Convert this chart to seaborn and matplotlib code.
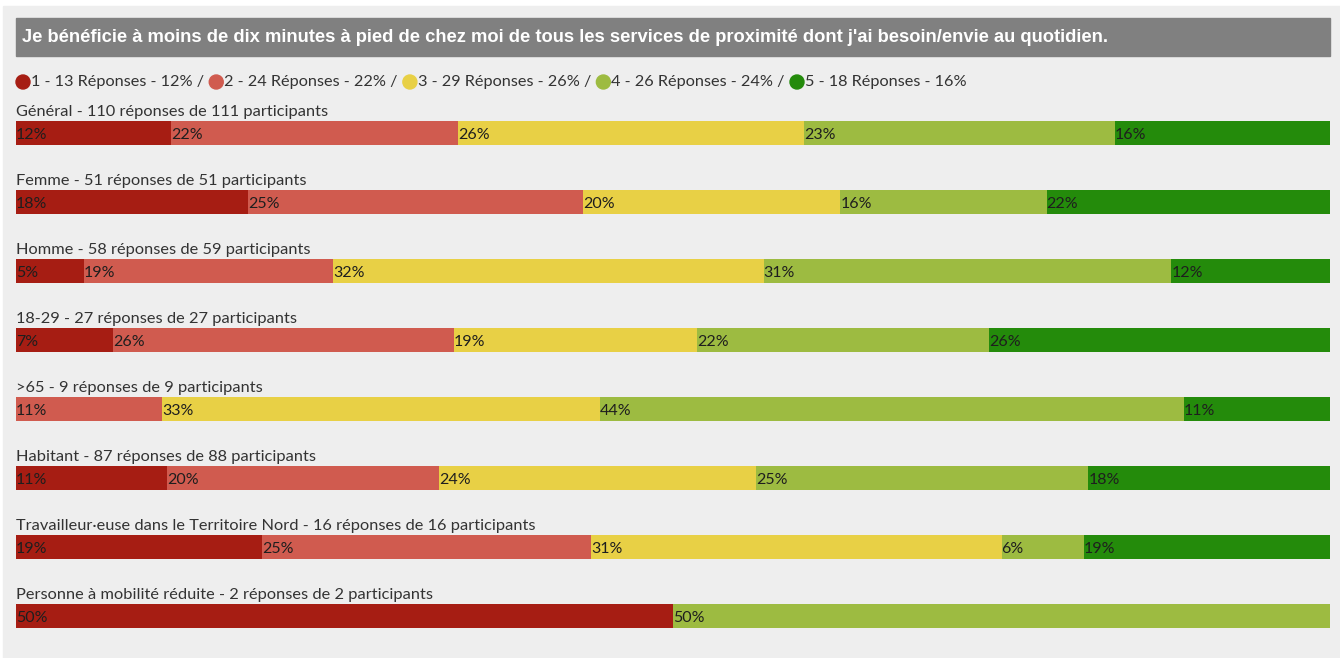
import numpy as np
import pandas as pd
import matplotlib
matplotlib.use("Agg")
import matplotlib.pyplot as plt
from matplotlib.patches import Rectangle, Circle
import seaborn as sns

# données
title = "Je bénéficie à moins de dix minutes à pied de chez moi de tous les services de proximité dont j'ai besoin/envie au quotidien."
rows = [
    "Général - 110 réponses de 111 participants",
    "Femme - 51 réponses de 51 participants",
    "Homme - 58 réponses de 59 participants",
    "18-29 - 27 réponses de 27 participants",
    ">65 - 9 réponses de 9 participants",
    "Habitant - 87 réponses de 88 participants",
    "Travailleur·euse dans le Territoire Nord - 16 réponses de 16 participants",
    "Personne à mobilité réduite - 2 réponses de 2 participants",
]

# nombre de réponses par note (1 à 5)
rep1 = [13, 9, 3, 2, 0, 10, 3, 1]
rep2 = [24, 13, 11, 7, 1, 18, 4, 0]
rep3 = [29, 10, 19, 5, 3, 21, 5, 0]
rep4 = [26, 8, 18, 6, 4, 22, 1, 1]
rep5 = [18, 11, 7, 7, 1, 16, 3, 0]

# pourcentages affichés
pct1 = ["12%", "18%", "5%", "7%", "", "11%", "19%", "50%"]
pct2 = ["22%", "25%", "19%", "26%", "11%", "20%", "25%", ""]
pct3 = ["26%", "20%", "32%", "19%", "33%", "24%", "31%", ""]
pct4 = ["23%", "16%", "31%", "22%", "44%", "25%", "6%", "50%"]
pct5 = ["16%", "22%", "12%", "26%", "11%", "18%", "19%", ""]

legend_labels = [
    "1 - 13 Réponses - 12% / ",
    "2 - 24 Réponses - 22% / ",
    "3 - 29 Réponses - 26% / ",
    "4 - 26 Réponses - 24% / ",
    "5 - 18 Réponses - 16%",
]
colors = ["#a61d13", "#d05b4f", "#e8d045", "#9dbb41", "#248b0b"]

W, H = 1340, 658

counts = np.array([rep1, rep2, rep3, rep4, rep5], dtype=float).T
frac = counts / counts.sum(axis=1, keepdims=True)
cum = np.cumsum(frac, axis=1)
labels = np.array([pct1, pct2, pct3, pct4, pct5]).T

sns.set_theme(style="white")
plt.rcParams['font.family'] = ['Lato', 'DejaVu Sans']

fig = plt.figure(figsize=(W / 100, H / 100), dpi=100)
fig.patch.set_facecolor("white")

# fond gris + bandeau titre
fig.patches.append(Rectangle((3 / W, 0), 1 - 3 / W, 1 - 6 / H, transform=fig.transFigure,
                             color="#eeeeee", zorder=-10))
fig.patches.append(Rectangle((16 / W, 1 - 56 / H), 1314 / W, 38 / H, transform=fig.transFigure,
                             color="#808080", zorder=-5))
fig.text(22 / W, 1 - 37 / H, title, color="white", fontsize=13.2, fontweight="bold",
         family=["Liberation Sans", "DejaVu Sans"], va="center")

# légende
renderer = fig.canvas.get_renderer()
x = 16
for lab, col in zip(legend_labels, colors):
    fig.patches.append(Circle((x + 7, H - 82), 7, transform=None, color=col))
    x += 15
    t = fig.text(x / W, 1 - 82 / H, lab, fontsize=11.7, color="#333333", va="center")
    x += t.get_window_extent(renderer).width + 1

# barres empilées
ax = fig.add_axes([16 / W, 7.5 / H, 1314 / W, 552 / H])
ax.set_facecolor("none")
for k in reversed(range(5)):
    sns.barplot(x=cum[:, k], y=rows, order=rows, color=colors[k], saturation=1,
                width=24 / 69, orient="h", ax=ax, linewidth=0)

for i, row in enumerate(rows):
    ax.text(0, i - 0.31, row, fontsize=11.8, color="#333333", va="center", ha="left")
    left = 0
    for k in range(5):
        if labels[i, k]:
            ax.text(left, i + 0.03, labels[i, k], fontsize=11.5, color="#1e1e1e",
                    va="center", ha="left")
        left = cum[i, k]

ax.set_xlim(0, 1)
ax.set_ylim(7.5, -0.5)
ax.set_axis_off()

fig.savefig("out.png", dpi=100)
